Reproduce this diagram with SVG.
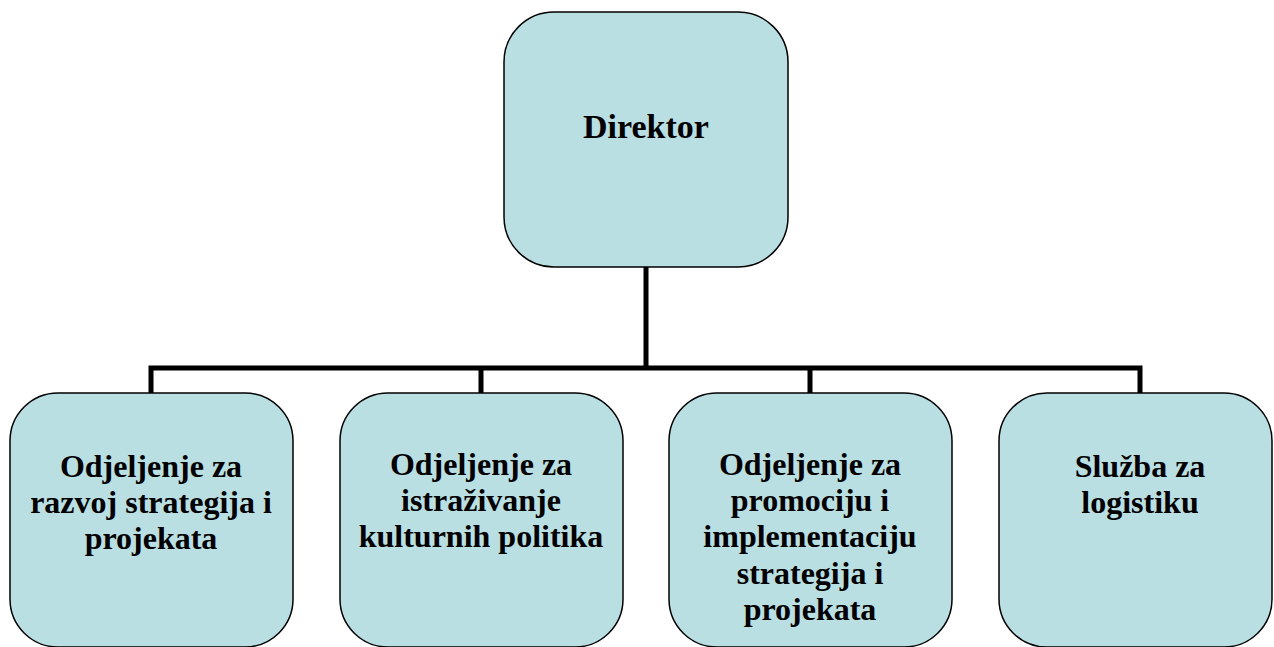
<svg xmlns="http://www.w3.org/2000/svg" width="1274" height="647" viewBox="0 0 1274 647">
<style>
.box{fill:#BADFE3;stroke:#000;stroke-width:1.5}
.t{font-family:'Liberation Serif',Tinos,'Times New Roman',Times,'DejaVu Serif',serif;font-weight:bold;font-size:32px;fill:#000;text-anchor:middle}
.conn{fill:none;stroke:#000;stroke-width:5}
</style>
<rect x="0" y="0" width="1274" height="647" fill="#fff"/>
<g id="connectors">
<path class="conn" d="M646,267 V368 M151,393 V368 H1140 V393 M481,368 V393 M810,368 V393"/>
</g>
<g id="director">
<rect class="box" x="504" y="12" width="284" height="255" rx="50" ry="50"/>
<text class="t" x="646" y="138" font-size="34" style="font-size:34px">Direktor</text>
</g>
<g id="odjeljenje-razvoj">
<rect class="box" x="10" y="393" width="283" height="254" rx="48" ry="48"/>
<text class="t" x="151" y="477">Odjeljenje za</text>
<text class="t" x="151" y="513">razvoj strategija i</text>
<text class="t" x="151" y="549">projekata</text>
</g>
<g id="odjeljenje-istrazivanje">
<rect class="box" x="340" y="393" width="283" height="254" rx="48" ry="48"/>
<text class="t" x="481" y="475">Odjeljenje za</text>
<text class="t" x="481" y="511">istraživanje</text>
<text class="t" x="481" y="547">kulturnih politika</text>
</g>
<g id="odjeljenje-promocija">
<rect class="box" x="669" y="393" width="283" height="254" rx="48" ry="48"/>
<text class="t" x="810" y="475">Odjeljenje za</text>
<text class="t" x="810" y="511">promociju i</text>
<text class="t" x="810" y="547">implementaciju</text>
<text class="t" x="810" y="584">strategija i</text>
<text class="t" x="810" y="620">projekata</text>
</g>
<g id="sluzba-logistika">
<rect class="box" x="999" y="393" width="273" height="254" rx="48" ry="48"/>
<text class="t" x="1140" y="477">Služba za</text>
<text class="t" x="1140" y="513">logistiku</text>
</g>
</svg>
